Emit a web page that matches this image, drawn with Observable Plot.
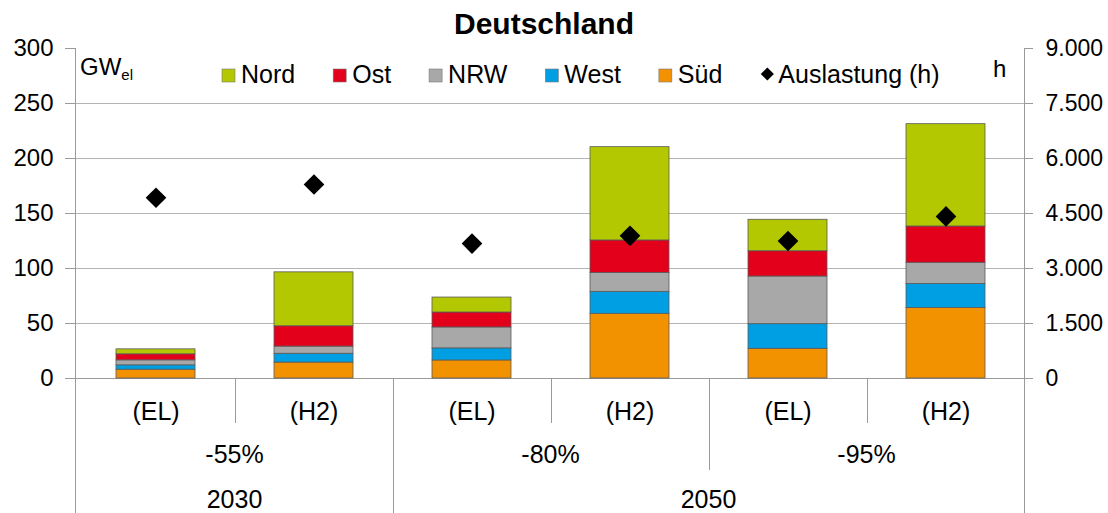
<!DOCTYPE html>
<html>
<head>
<meta charset="utf-8">
<script src="https://cdn.jsdelivr.net/npm/d3@7"></script>
<script src="https://cdn.jsdelivr.net/npm/@observablehq/plot@0.6"></script>
<style>
  html, body { margin: 0; padding: 0; background: #fff; overflow: hidden; }
  body { width: 1108px; height: 513px; position: relative; font-family: "Liberation Sans", Arial, sans-serif; }
  #title { position: absolute; left: 0; top: 9px; width: 1088px; text-align: center;
           font: bold 30px/30px "Liberation Sans", Arial, sans-serif; color: #000; }
  #chart { position: absolute; left: 0; top: 36px; }
</style>
</head>
<body>
<div id="title">Deutschland</div>
<div id="chart"></div>
<script>
// ---- data ----
const categories = ["(EL)", "(H2)", "(EL)", "(H2)", "(EL)", "(H2)"];
const scenarios  = ["-55%", "-55%", "-80%", "-80%", "-95%", "-95%"];
const years      = ["2030", "2030", "2050", "2050", "2050", "2050"];

const regions = ["Süd", "West", "NRW", "Ost", "Nord"];          // stack order, bottom to top
const regionColors = ["#f39200", "#009fe3", "#a8a8a8", "#e2001a", "#b3c800"];
const legendOrder = ["Nord", "Ost", "NRW", "West", "Süd"];

const sued = [8.0, 14.5, 16.4, 58.8, 27.0, 64.0];
const west = [4.0, 8.0, 11.0, 20.0, 22.4, 22.0];
const nrw  = [4.5, 6.5, 19.0, 17.2, 43.3, 19.2];
const ost  = [5.5, 18.5, 13.6, 29.5, 23.0, 33.0];
const nord = [4.5, 49.0, 13.6, 84.8, 28.6, 93.0];
const regionValues = [sued, west, nrw, ost, nord];

const auslastung = [4930, 5290, 3680, 3890, 3750, 4420];   // hours (right axis)

const yTicks = [0, 50, 100, 150, 200, 250, 300];
const hTicks = [0, 1500, 3000, 4500, 6000, 7500, 9000];
const hTickLabels = ["0", "1.500", "3.000", "4.500", "6.000", "7.500", "9.000"];

// ---- derived tables ----
const ratio = hTicks[hTicks.length - 1] / yTicks[yTicks.length - 1];
const rows = [];
regions.forEach((r, k) => regionValues[k].forEach((v, i) => rows.push({id: i, region: r, value: v})));
const points = auslastung.map((h, i) => ({id: i, h, y: h / ratio}));
const ids = d3.range(categories.length);

const FONT = "'Liberation Sans', Arial, sans-serif";
const W = 1108, H = 477, ML = 76, MR = 84, MT = 12, MB = 135;

const plot = Plot.plot({
  width: W, height: H,
  marginLeft: ML, marginRight: MR, marginTop: MT, marginBottom: MB,
  style: {fontFamily: FONT, fontSize: "24px", color: "#000", background: "#fff", overflow: "visible"},
  x: {domain: ids, paddingInner: 0.5, paddingOuter: 0.25, axis: null},
  y: {domain: [yTicks[0], yTicks[yTicks.length - 1]], axis: null},
  color: {domain: regions, range: regionColors},
  marks: [
    Plot.ruleY(yTicks.slice(1, -1), {stroke: "#b4b4b4", strokeWidth: 1}),
    Plot.ruleY([0], {stroke: "#9a9a9a", strokeWidth: 1}),
    Plot.barY(rows, {x: "id", y: "value", fill: "region", stroke: "#5a5a5a", strokeWidth: 0.8}),
    Plot.dot(points, {x: "id", y: "y", symbol: "diamond2", r: 9.3, fill: "#000", stroke: "none"}),
    Plot.axisY({anchor: "left", ticks: yTicks, tickSize: 11, tickPadding: 12, fontSize: 24,
                stroke: "#9a9a9a", strokeOpacity: 1, label: null}),
    Plot.axisY({anchor: "right", ticks: yTicks, tickSize: 8, tickPadding: 13, fontSize: 23,
                tickFormat: d => hTickLabels[yTicks.indexOf(d)],
                stroke: "#9a9a9a", strokeOpacity: 1, label: null}),
    Plot.axisX({anchor: "bottom", tickSize: 0, tickPadding: 24, fontSize: 25,
                tickFormat: i => categories[i], label: null})
  ]
});
document.getElementById("chart").appendChild(plot);

// ---- multi-level category axis, borders and legend drawn with the plot's scales ----
const svg = d3.select(plot);
const xs = plot.scale("x"), ys = plot.scale("y");
const bw = xs.bandwidth, step = xs.step;
const cx = i => xs.apply(i) + bw / 2;
const y0 = ys.apply(0), yTop = ys.apply(yTicks[yTicks.length - 1]);
const left = ML, right = W - MR;

const lines = svg.append("g").attr("stroke", "#9a9a9a").attr("stroke-width", 1).attr("fill", "none");
const vline = (x, ya, yb) => lines.append("line")
  .attr("x1", Math.round(x) + 0.5).attr("x2", Math.round(x) + 0.5).attr("y1", ya).attr("y2", yb);
vline(left - 1, yTop, H);
vline(right, yTop, H);
for (let i = 0; i < ids.length - 1; i++) {
  const x = cx(i) + step / 2;
  const bottom = years[i] !== years[i + 1] ? H : scenarios[i] !== scenarios[i + 1] ? y0 + 92 : y0 + 45;
  vline(x, y0, bottom);
}

function runs(arr) {
  const out = [];
  arr.forEach((v, i) => {
    if (out.length && out[out.length - 1].v === v && (arr === scenarios ? years[i] === years[out[out.length - 1].i0] : true)) out[out.length - 1].i1 = i;
    else out.push({v, i0: i, i1: i});
  });
  return out;
}
const tg = svg.append("g").attr("font-family", FONT).attr("font-size", 25).attr("fill", "#000").attr("text-anchor", "middle");
runs(scenarios).forEach(r => tg.append("text").attr("x", (cx(r.i0) + cx(r.i1)) / 2).attr("y", y0 + 85).text(r.v));
runs(years).forEach(r => tg.append("text").attr("x", (cx(r.i0) + cx(r.i1)) / 2).attr("y", y0 + 130).text(r.v));

// unit labels
const ub = svg.append("g").attr("font-family", FONT).attr("fill", "#000").attr("text-anchor", "start");
const gw = ub.append("text").attr("x", left + 4).attr("y", 39).attr("font-size", 24);
gw.append("tspan").text("GW");
gw.append("tspan").attr("font-size", 15).attr("dy", 5).text("el");
ub.append("text").attr("x", right - 31).attr("y", 41).attr("font-size", 24).text("h");

// legend
const lg = svg.append("g").attr("font-family", FONT).attr("font-size", 25).attr("fill", "#000").attr("text-anchor", "start");
let lx = 222;
const ly = 47; // baseline in svg coords
legendOrder.forEach(name => {
  const c = regionColors[regions.indexOf(name)];
  lg.append("rect").attr("x", lx).attr("y", ly - 14).attr("width", 13).attr("height", 13)
    .attr("fill", c).attr("stroke", "#7a7a7a").attr("stroke-width", 0.6);
  const t = lg.append("text").attr("x", lx + 19).attr("y", ly).text(name);
  lx += 19 + t.node().getComputedTextLength() + 38;
});
lg.append("path").attr("d", d3.symbol(d3.symbolDiamond2, 110)())
  .attr("transform", `translate(${lx + 7},${ly - 9})`).attr("fill", "#000");
lg.append("text").attr("x", lx + 18).attr("y", ly).text("Auslastung (h)");
</script>
</body>
</html>
